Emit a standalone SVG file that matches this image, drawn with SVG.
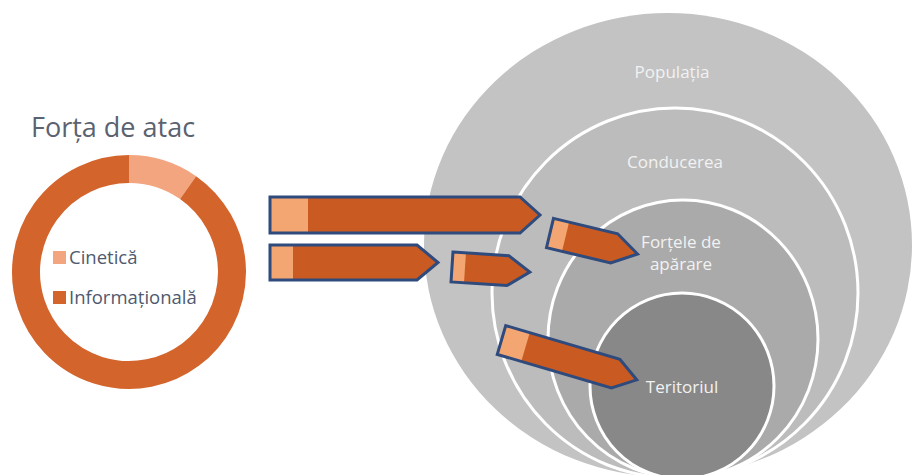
<svg xmlns="http://www.w3.org/2000/svg" width="913" height="475" viewBox="0 0 913 475">
<style>
.title{font-family:"Open Sans","Liberation Sans",sans-serif;font-size:27px;fill:#5b6270}
.leg{font-family:"Open Sans","Liberation Sans",sans-serif;font-size:18.5px;fill:#4f5a6e}
.lbl{font-family:"Open Sans","Liberation Sans",sans-serif;font-size:17px;fill:#f2f2f2;text-anchor:middle}
.ring{fill:none;stroke:#ffffff;stroke-width:3}
.body{fill:#c95b22}
.light{fill:#f4a672}
.outline{fill:none;stroke:#2f4a7c;stroke-width:3;stroke-linejoin:miter}
</style>
<rect width="913" height="475" fill="#ffffff"/>
<g id="venn">
  <g id="populatia">
    <ellipse cx="668" cy="245" rx="244" ry="232" fill="#c3c3c3"/>
    <text class="lbl" x="672" y="78">Populația</text>
  </g>
  <g id="conducerea">
    <ellipse cx="675" cy="293" rx="183" ry="185" fill="#bcbcbc"/>
    <ellipse cx="675" cy="293" rx="183" ry="185" class="ring"/>
    <text class="lbl" x="675" y="168">Conducerea</text>
  </g>
  <g id="fortele">
    <ellipse cx="683" cy="339" rx="135" ry="139" fill="#aaaaaa"/>
    <ellipse cx="683" cy="339" rx="135" ry="139" class="ring"/>
    <text class="lbl" x="681" y="248">Forțele de</text>
    <text class="lbl" x="681" y="270">apărare</text>
  </g>
  <g id="teritoriul">
    <ellipse cx="682" cy="386" rx="92" ry="93" fill="#888888"/>
    <ellipse cx="682" cy="386" rx="92" ry="93" class="ring"/>
    <text class="lbl" x="682" y="393">Teritoriul</text>
  </g>
</g>
<g id="forta-de-atac">
  <text class="title" x="31" y="137">Forța de atac</text>
  <path d="M129,169 A103,103 0 0 1 188.08,187.63" fill="none" stroke="#f2a57f" stroke-width="28"/>
  <path d="M188.08,187.63 A103,103 0 1 1 129,169" fill="none" stroke="#d3652c" stroke-width="28"/>
  <g id="legend">
    <rect x="53" y="251" width="13" height="13" fill="#f2a57f"/>
    <text class="leg" x="69" y="264">Cinetică</text>
    <rect x="53" y="291" width="13" height="13" fill="#d3652c"/>
    <text class="leg" x="69" y="304">Informațională</text>
  </g>
</g>
<g id="connectors">
  <g id="arrow1" transform="translate(270,215)">
    <path class="body" d="M0,-18 H250 L270,0 L250,18 H0 Z"/>
    <rect class="light" x="0" y="-18" width="38" height="36"/>
    <path class="outline" d="M0,-18 H250 L270,0 L250,18 H0 Z"/>
  </g>
  <g id="arrow2" transform="translate(270,262.5)">
    <path class="body" d="M0,-17.5 H147 L168,0 L147,17.5 H0 Z"/>
    <rect class="light" x="0" y="-17.5" width="23" height="35"/>
    <path class="outline" d="M0,-17.5 H147 L168,0 L147,17.5 H0 Z"/>
  </g>
  <g id="arrow3" transform="translate(452,267) rotate(3.7)">
    <path class="body" d="M0,-15 H56 L78,0 L56,15 H0 Z"/>
    <rect class="light" x="0" y="-15" width="13" height="30"/>
    <path class="outline" d="M0,-15 H56 L78,0 L56,15 H0 Z"/>
  </g>
  <g id="arrow4" transform="translate(550,233) rotate(13.5)">
    <path class="body" d="M0,-15 H66 L90,0 L66,15 H0 Z"/>
    <rect class="light" x="0" y="-15" width="16" height="30"/>
    <path class="outline" d="M0,-15 H66 L90,0 L66,15 H0 Z"/>
  </g>
  <g id="arrow5" transform="translate(501.5,340) rotate(16.4)">
    <path class="body" d="M0,-15 H119 L141,0 L119,15 H0 Z"/>
    <rect class="light" x="0" y="-15" width="25" height="30"/>
    <path class="outline" d="M0,-15 H119 L141,0 L119,15 H0 Z"/>
  </g>
</g>
</svg>
